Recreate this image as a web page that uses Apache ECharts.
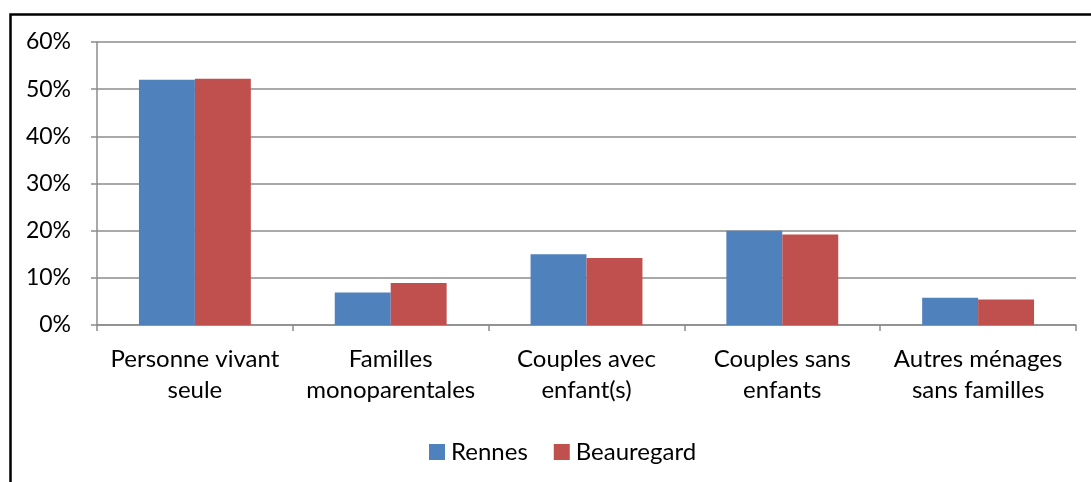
<!DOCTYPE html>
<html>
<head>
<meta charset="utf-8">
<script src="https://cdn.jsdelivr.net/npm/echarts@6/dist/echarts.min.js"></script>
<style>
html,body{margin:0;padding:0;background:#fff;}
#c{width:1091px;height:482px;}
</style>
</head>
<body>
<div id="c"></div>
<script>
var categories = ["Personne vivant\nseule", "Familles\nmonoparentales", "Couples avec\nenfant(s)", "Couples sans\nenfants", "Autres ménages\nsans familles"];
var rennes = [52.0, 6.9, 15.0, 20.0, 5.8];
var beauregard = [52.2, 8.9, 14.2, 19.2, 5.4];
var seriesNames = ["Rennes", "Beauregard"];

var font = "Lato, 'Open Sans', sans-serif";
var chart = echarts.init(document.getElementById('c'), null, {renderer: 'canvas'});
chart.setOption({
  animation: false,
  backgroundColor: '#ffffff',
  graphic: [{
    type: 'rect', left: 8, top: 12, shape: {x: 0, y: 0, width: 1120, height: 520},
    style: {fill: 'none', stroke: '#000', lineWidth: 2.5}, silent: true, z: -1
  }],
  grid: {left: 97, right: 15, top: 42, bottom: 157, containLabel: false},
  legend: {
    data: seriesNames, top: 435, left: 424, itemWidth: 16, itemHeight: 16, itemGap: 26,
    icon: 'rect',
    textStyle: {fontFamily: font, fontSize: 24, color: '#000', padding: [0, 0, 0, 1]}
  },
  xAxis: {
    type: 'category', data: categories,
    axisLine: {lineStyle: {color: '#8c8c8c', width: 1.5}},
    axisTick: {show: true, length: 6, lineStyle: {color: '#8c8c8c', width: 1.5}},
    axisLabel: {fontFamily: font, fontSize: 24, color: '#000', lineHeight: 31, margin: 19, interval: 0}
  },
  yAxis: {
    type: 'value', min: 0, max: 60, interval: 10,
    axisLine: {show: true, lineStyle: {color: '#8c8c8c', width: 1.5}},
    axisTick: {show: true, length: 6, lineStyle: {color: '#8c8c8c', width: 1.5}},
    splitLine: {lineStyle: {color: '#8c8c8c', width: 1.5}},
    axisLabel: {fontFamily: font, fontSize: 23, color: '#000', margin: 26, formatter: '{value}%'}
  },
  series: [
    {name: seriesNames[0], type: 'bar', data: rennes, barGap: '0%', barCategoryGap: '42.86%',
     itemStyle: {color: '#4f81bd'}},
    {name: seriesNames[1], type: 'bar', data: beauregard, barGap: '0%', barCategoryGap: '42.86%',
     itemStyle: {color: '#c0504d'}}
  ]
});
</script>
</body>
</html>
